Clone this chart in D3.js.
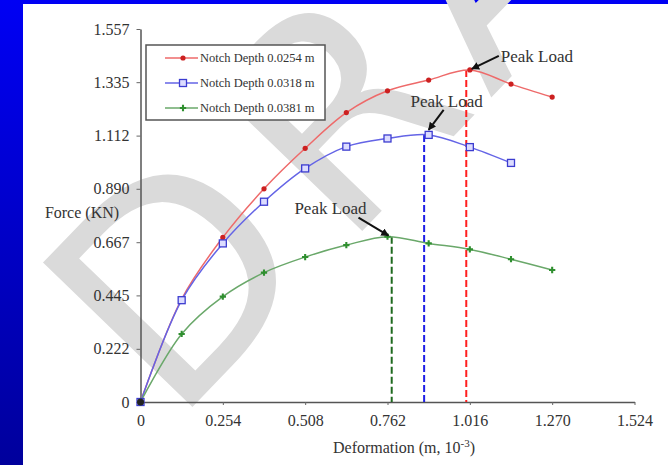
<!DOCTYPE html>
<html>
<head>
<meta charset="utf-8">
<script src="https://cdn.jsdelivr.net/npm/d3@7"></script>
<style>
    body { margin: 0; background: #fff; }
    svg { display: block; }
    text { font-family: "Liberation Serif", "DejaVu Serif", "Times New Roman", serif; }
    .wm { font-family: "DejaVu Sans", sans-serif; }
</style>
</head>
<body>
<div id="graph"></div>
<script>
// data
var deformation = [0, 0.127, 0.254, 0.381, 0.508, 0.635, 0.762, 0.889, 1.016, 1.143, 1.270];
var force0254 = [0, 0.430, 0.687, 0.890, 1.059, 1.208, 1.299, 1.344, 1.386, 1.327, 1.273];
var force0318 = [0, 0.425, 0.662, 0.836, 0.975, 1.066, 1.100, 1.115, 1.064, 0.998];
var force0381 = [0, 0.284, 0.440, 0.540, 0.605, 0.655, 0.690, 0.662, 0.637, 0.596, 0.551];
var seriesNames = ["Notch Depth 0.0254 m", "Notch Depth 0.0318 m", "Notch Depth 0.0381 m"];
// where the dashed peak lines meet the x axis
var peakLineDeformation = [1.005, 0.875, 0.775];

var xTicks = [0, 0.254, 0.508, 0.762, 1.016, 1.270, 1.524];
var xTickLabels = ["0", "0.254", "0.508", "0.762", "1.016", "1.270", "1.524"];
var yTicks = [0, 0.222, 0.445, 0.667, 0.890, 1.112, 1.335, 1.557];
var yTickLabels = ["0", "0.222", "0.445", "0.667", "0.890", "1.112", "1.335", "1.557"];

var width = 668, height = 465;

var svg = d3.select("#graph")
    .append("svg")
        .attr("width", width)
        .attr("height", height);

// blue slide background
var grad = svg.append("defs").append("linearGradient")
    .attr("id", "bg").attr("x1", 0).attr("y1", 0).attr("x2", 0).attr("y2", 1);
grad.append("stop").attr("offset", "0%").attr("stop-color", "#0000f4");
grad.append("stop").attr("offset", "100%").attr("stop-color", "#00009c");
svg.append("rect").attr("width", width).attr("height", height).attr("fill", "url(#bg)");
svg.append("rect").attr("x", 23).attr("y", 4).attr("width", width - 23).attr("height", height - 4).attr("fill", "#ffffff");

// DRAFT watermark
svg.append("text")
    .attr("class", "wm")
    .attr("transform", "translate(173,427) rotate(-46)")
    .style("font-size", "285px")
    .style("letter-spacing", "25px")
    .attr("fill", "#dadada")
    .text("DRAFT");

// scales
var x = d3.scaleLinear().domain([0, 1.524]).range([140.5, 634.5]);
var y = d3.scaleLinear().domain([0, 1.557]).range([402, 29]);

// axes
var xAxis = svg.append("g")
    .attr("transform", "translate(0," + y(0) + ")")
    .call(d3.axisBottom(x).tickValues(xTicks).tickSize(3).tickSizeOuter(0).tickPadding(10)
        .tickFormat(function(d, i) { return xTickLabels[i]; }));
var yAxis = svg.append("g")
    .attr("transform", "translate(" + x(0) + ",0)")
    .call(d3.axisLeft(y).tickValues(yTicks).tickSize(4).tickSizeOuter(0).tickPadding(7)
        .tickFormat(function(d, i) { return yTickLabels[i]; }));
[xAxis, yAxis].forEach(function(ax) {
    ax.attr("font-family", null);
    ax.select(".domain").attr("stroke", "#555").attr("stroke-width", 1.5);
    ax.selectAll(".tick line").attr("stroke", "#666");
    ax.selectAll(".tick text").attr("fill", "#333").style("font-size", "16px");
});

// axis titles
var xTitle = svg.append("text")
    .attr("x", 404).attr("y", 453)
    .attr("text-anchor", "middle")
    .style("font-size", "16px").attr("fill", "#333")
    .text("Deformation (m, 10");
xTitle.append("tspan").attr("dy", -6).style("font-size", "11px").text("-3");
xTitle.append("tspan").attr("dy", 6).text(")");

svg.append("text")
    .attr("x", 82).attr("y", 218)
    .attr("text-anchor", "middle")
    .style("font-size", "16px").attr("fill", "#333")
    .text("Force (KN)");

// series setup
var series = [
    { name: seriesNames[0], values: force0254, line: "#ee6a6a", mark: "#cc2020", dash: "#ff1f1f", shape: "dot" },
    { name: seriesNames[1], values: force0318, line: "#6464e6", mark: "#3c3cd0", dash: "#1f1fe6", shape: "square" },
    { name: seriesNames[2], values: force0381, line: "#6aa86a", mark: "#2f8f2f", dash: "#1f6a1f", shape: "cross" }
];

series.forEach(function(s, k) {
    s.points = s.values.map(function(v, i) { return { x: deformation[i], y: v }; });
    var best = d3.maxIndex(s.values);
    s.peak = s.points[best];
    s.peakLine = peakLineDeformation[k];
});

var line = d3.line()
    .x(function(d) { return x(d.x); })
    .y(function(d) { return y(d.y); })
    .curve(d3.curveCatmullRom.alpha(0.5));

// dashed peak lines
svg.selectAll("line.peak")
    .data(series)
    .enter()
    .append("line")
    .attr("class", "peak")
    .attr("x1", function(d) { return x(d.peakLine); })
    .attr("x2", function(d) { return x(d.peakLine); })
    .attr("y1", function(d) { return y(d.peak.y); })
    .attr("y2", y(0))
    .attr("stroke", function(d) { return d.dash; })
    .attr("stroke-width", 2)
    .attr("stroke-dasharray", "7,3");

// curves
svg.selectAll("path.curve")
    .data(series)
    .enter()
    .append("path")
    .attr("class", "curve")
    .attr("d", function(d) { return line(d.points); })
    .attr("fill", "none")
    .attr("stroke", function(d) { return d.line; })
    .attr("stroke-width", 1.5);

// markers
function drawMarker(g, s, px, py) {
    if (s.shape === "dot") {
        g.append("circle").attr("cx", px).attr("cy", py).attr("r", 2.6).attr("fill", s.mark);
    } else if (s.shape === "square") {
        g.append("rect").attr("x", px - 3.5).attr("y", py - 3.5).attr("width", 7).attr("height", 7)
            .attr("fill", "#dcdcff").attr("stroke", s.mark).attr("stroke-width", 1.3);
    } else {
        g.append("path").attr("transform", "translate(" + px + "," + py + ")")
            .attr("d", d3.symbol(d3.symbolCross, 22)())
            .attr("fill", s.mark);
    }
}
var marks = svg.append("g");
series.forEach(function(s) {
    s.points.forEach(function(p) {
        drawMarker(marks, s, x(p.x), y(p.y));
    });
});

// origin marker
svg.append("circle").attr("cx", x(0)).attr("cy", y(0)).attr("r", 3.5).attr("fill", "#222");

// "Peak Load" annotations, offsets in px from the peak point
var notes = [
    { s: series[0], from: [29, -14], to: [2, -1], text: [31, -8], anchor: "start" },
    { s: series[1], from: [15, -25], to: [0, -5], text: [18, -28], anchor: "middle" },
    { s: series[2], from: [-29, -19], to: [1, -1], text: [-57, -23], anchor: "middle" }
];
svg.append("defs").append("marker")
    .attr("id", "arrow")
    .attr("viewBox", "0 0 10 10")
    .attr("refX", 9).attr("refY", 5)
    .attr("markerWidth", 4).attr("markerHeight", 4)
    .attr("orient", "auto")
    .append("path").attr("d", "M0,0 L10,5 L0,10 z").attr("fill", "#111");

notes.forEach(function(n) {
    var px = x(n.s.peak.x), py = y(n.s.peak.y);
    svg.append("line")
        .attr("x1", px + n.from[0]).attr("y1", py + n.from[1])
        .attr("x2", px + n.to[0]).attr("y2", py + n.to[1])
        .attr("stroke", "#111").attr("stroke-width", 2)
        .attr("marker-end", "url(#arrow)");
    svg.append("text")
        .attr("x", px + n.text[0]).attr("y", py + n.text[1])
        .attr("text-anchor", n.anchor)
        .style("font-size", "17px").attr("fill", "#333")
        .text("Peak Load");
});

// legend
var legend = svg.append("g").attr("transform", "translate(146,45)");
legend.append("rect")
    .attr("width", 179).attr("height", 75)
    .attr("fill", "#fff").attr("stroke", "#555").attr("stroke-width", 1.5);
var rows = legend.selectAll("g.row")
    .data(series)
    .enter()
    .append("g")
    .attr("class", "row")
    .attr("transform", function(d, i) { return "translate(0," + (13 + i * 25) + ")"; });
rows.append("line")
    .attr("x1", 19).attr("x2", 52).attr("y1", 0).attr("y2", 0)
    .attr("stroke", function(d) { return d.line; }).attr("stroke-width", 1.5);
rows.each(function(d) { drawMarker(d3.select(this), d, 37, 0); });
rows.append("text")
    .attr("x", 54).attr("y", 4)
    .style("font-size", "12.5px").attr("fill", "#333")
    .text(function(d) { return d.name; });
</script>
</body>
</html>
